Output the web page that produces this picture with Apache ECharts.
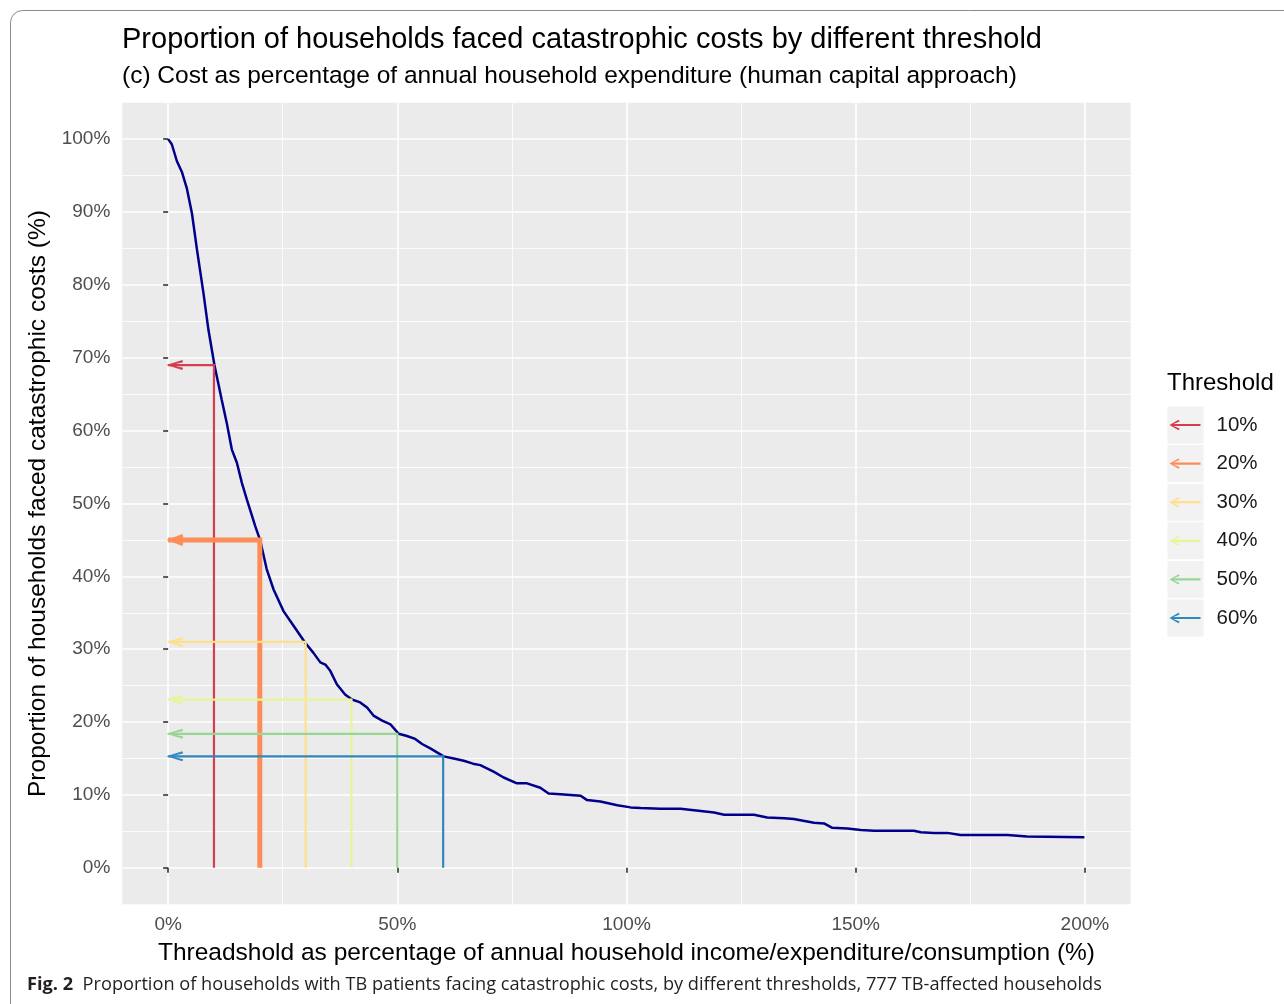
<!DOCTYPE html>
<html>
<head>
<meta charset="utf-8">
<script src="https://cdn.jsdelivr.net/npm/echarts@6/dist/echarts.min.js"></script>
<style>
html,body{margin:0;padding:0;background:#fff;}
#chart{width:1284px;height:1004px;}
</style>
</head>
<body>
<div id="chart"></div>
<script>
// Survival-type curve: [threshold %, proportion of households %]
var curvePoints = [
  [0,100],[0.8,99.3],[1.9,97.0],[3.0,95.5],[4.1,93.2],[5.2,89.8],[6.3,84.8],[7.7,78.9],
  [8.8,73.8],[10.1,69.0],[11.7,64.2],[12.8,61.0],[13.9,57.4],[15.0,55.6],[16.1,52.8],
  [17.2,50.5],[18.3,48.3],[19.0,46.9],[20.1,44.9],[21.5,41.0],[23.0,38.2],[25.2,35.2],
  [27.4,33.2],[29.9,30.9],[31.7,29.5],[33.2,28.2],[34.3,27.9],[35.4,27.0],[36.8,25.2],
  [38.6,23.8],[40.1,23.1],[41.9,22.7],[43.4,22.0],[44.8,20.9],[46.7,20.2],[48.5,19.7],
  [50.3,18.4],[52.1,18.1],[53.9,17.7],[55.4,17.0],[57.2,16.4],[60.1,15.3],[62.3,15.0],
  [64.5,14.7],[66.5,14.3],[68.1,14.1],[71.0,13.2],[73.2,12.4],[76.1,11.6],[78.3,11.6],
  [81.2,11.0],[83.0,10.2],[85.6,10.1],[90.0,9.9],[91.4,9.3],[94.3,9.1],[98.0,8.6],
  [100.9,8.3],[103.1,8.2],[107.4,8.1],[111.8,8.1],[116.2,7.8],[119.1,7.6],[121.3,7.3],
  [127.8,7.3],[130.7,6.9],[134.4,6.8],[136.5,6.7],[140.9,6.2],[143.1,6.1],[144.9,5.5],
  [148.2,5.4],[151.1,5.2],[154.0,5.1],[162.7,5.1],[164.2,4.9],[167.1,4.8],[170.0,4.8],
  [172.9,4.5],[183.1,4.5],[187.4,4.3],[199.9,4.2]
];

// Threshold arrows
var thresholdNames = ['10%','20%','30%','40%','50%','60%'];
var thresholdX = [10,20,30,40,50,60];
var thresholdY = [69.0,45.0,31.0,23.1,18.4,15.3];

// Axis tick values
var xTickValues = [0,50,100,150,200];
var yTickValues = [0,10,20,30,40,50,60,70,80,90,100];

// Styles
var thresholdColors = ['#D53E4F','#FC8D59','#FEE08B','#E6F598','#99D594','#3288BD'];
var thresholdWidths = [2.2,5,2.2,2.2,2.2,2.2];
var FONT = '"Liberation Sans", Arial, Helvetica, sans-serif';

var thinHead = 'path://M0,5 L16,0 L16.8,2.2 L5,5 L16.8,7.8 L16,10 Z';
var thickHead = 'path://M0,6 L16,0.5 L17,3.6 L9,6 L17,8.4 L16,11.5 Z';
var legendIcon = 'path://M0,5.5 L9,0.3 L10.2,2 L4,4.4 L31,4.4 L31,6.6 L4,6.6 L10.2,9 L9,10.7 Z';

var series = [{
  type: 'line',
  name: 'curve',
  data: curvePoints,
  symbol: 'none',
  lineStyle: { color: '#00008B', width: 2.5 },
  itemStyle: { color: '#00008B' },
  silent: true,
  z: 2
}];

thresholdNames.forEach(function (n, i) {
  var thick = thresholdWidths[i] > 3;
  series.push({
    type: 'line',
    name: n,
    showSymbol: true,
    showAllSymbol: true,
    data: [
      { value: [thresholdX[i], 0], symbol: 'none' },
      { value: [thresholdX[i], thresholdY[i]], symbol: 'none' },
      { value: [0, thresholdY[i]],
        symbol: thick ? thickHead : thinHead,
        symbolSize: thick ? [17, 12] : [16.8, 10],
        symbolOffset: thick ? [6.8, 0] : [6.6, 0] }
    ],
    lineStyle: { color: thresholdColors[i], width: thresholdWidths[i], cap: 'butt', join: 'miter' },
    itemStyle: { color: thresholdColors[i], borderWidth: 0 },
    silent: true,
    z: 3
  });
});

var legendItemH = 22;
var legendTop = 425 - legendItemH / 2;
var legendStep = 38.6;
var graphics = [{
  type: 'rect',
  shape: { x: 10.5, y: 10.5, width: 1300, height: 1010, r: 12 },
  style: { fill: 'none', stroke: '#8a8a8a', lineWidth: 1 },
  silent: true, z: 0
}];
thresholdNames.forEach(function (n, i) {
  graphics.push({
    type: 'rect',
    shape: { x: 1167.5, y: 425 - 18.5 + i * legendStep, width: 36, height: 37 },
    style: { fill: '#F2F2F2' },
    silent: true, z: 0
  });
});

var option = {
  animation: false,
  backgroundColor: '#ffffff',
  title: [
    { text: 'Proportion of households faced catastrophic costs by different threshold',
      left: 122, top: 25, padding: 0,
      textStyle: { fontFamily: FONT, fontSize: 29, fontWeight: 'normal', color: '#000' } },
    { text: '(c) Cost as percentage of annual household expenditure (human capital approach)',
      left: 122, top: 64, padding: 0,
      textStyle: { fontFamily: FONT, fontSize: 24.5, fontWeight: 'normal', color: '#000' } },
    { text: 'Threshold', left: 1167, top: 371, padding: 0,
      textStyle: { fontFamily: FONT, fontSize: 24, fontWeight: 'normal', color: '#000' } },
    { text: '{b|Fig. 2}  Proportion of households with TB patients facing catastrophic costs, by different thresholds, 777 TB-affected households',
      left: 27, top: 976, padding: 0,
      textStyle: { fontFamily: '"Open Sans", "Noto Sans", sans-serif', fontSize: 18.2, fontWeight: 'normal', color: '#231F20',
        rich: { b: { fontFamily: '"Open Sans", "Noto Sans", sans-serif', fontSize: 18.2, fontWeight: 'bold', color: '#231F20' } } } }
  ],
  legend: {
    data: thresholdNames.map(function (n) { return { name: n, icon: legendIcon }; }),
    orient: 'vertical',
    left: 1169.5,
    top: legendTop,
    itemWidth: 31,
    itemHeight: legendItemH,
    itemGap: legendStep - legendItemH,
    selectedMode: false,
    padding: 0,
    itemStyle: { borderWidth: 0 },
    textStyle: { fontFamily: FONT, fontSize: 20.5, color: '#1a1a1a', padding: [0, 0, 0, 11], lineHeight: legendItemH }
  },
  grid: {
    left: 122.3, right: 1284 - 1130.7, top: 102.7, bottom: 1004 - 904.3,
    show: true, backgroundColor: '#EBEBEB', borderWidth: 0,
    containLabel: false
  },
  xAxis: {
    type: 'value',
    min: -10, max: 210,
    minInterval: 50, maxInterval: 50,
    name: 'Threadshold as percentage of annual household income/expenditure/consumption (%)',
    nameLocation: 'middle',
    nameGap: 36,
    nameTextStyle: { fontFamily: FONT, fontSize: 24.5, color: '#000' },
    axisLine: { show: false },
    axisTick: { show: true, length: 5, customValues: xTickValues, lineStyle: { color: '#333', width: 1.6 } },
    axisLabel: { customValues: xTickValues, margin: 11, fontFamily: FONT, fontSize: 19, color: '#4D4D4D',
      formatter: function (v) { return v + '%'; } },
    splitLine: { show: true, lineStyle: { color: '#ffffff', width: 1.6 } },
    minorTick: { show: false, splitNumber: 2 },
    minorSplitLine: { show: true, lineStyle: { color: '#ffffff', width: 0.8 } }
  },
  yAxis: {
    type: 'value',
    min: -5, max: 105,
    minInterval: 10, maxInterval: 10,
    name: 'Proportion of households faced catastrophic costs (%)',
    nameLocation: 'middle',
    nameGap: 68.5,
    nameTextStyle: { fontFamily: FONT, fontSize: 24.5, color: '#000' },
    axisLine: { show: false },
    axisTick: { show: true, length: 5, customValues: yTickValues, lineStyle: { color: '#333', width: 1.6 } },
    axisLabel: { customValues: yTickValues, margin: 12, fontFamily: FONT, fontSize: 19, color: '#4D4D4D',
      formatter: function (v) { return v + '%'; } },
    splitLine: { show: true, lineStyle: { color: '#ffffff', width: 1.6 } },
    minorTick: { show: false, splitNumber: 2 },
    minorSplitLine: { show: true, lineStyle: { color: '#ffffff', width: 0.8 } }
  },
  graphic: graphics,
  series: series
};

var chart = echarts.init(document.getElementById('chart'), null, { renderer: 'canvas' });
chart.setOption(option);
</script>
</body>
</html>
